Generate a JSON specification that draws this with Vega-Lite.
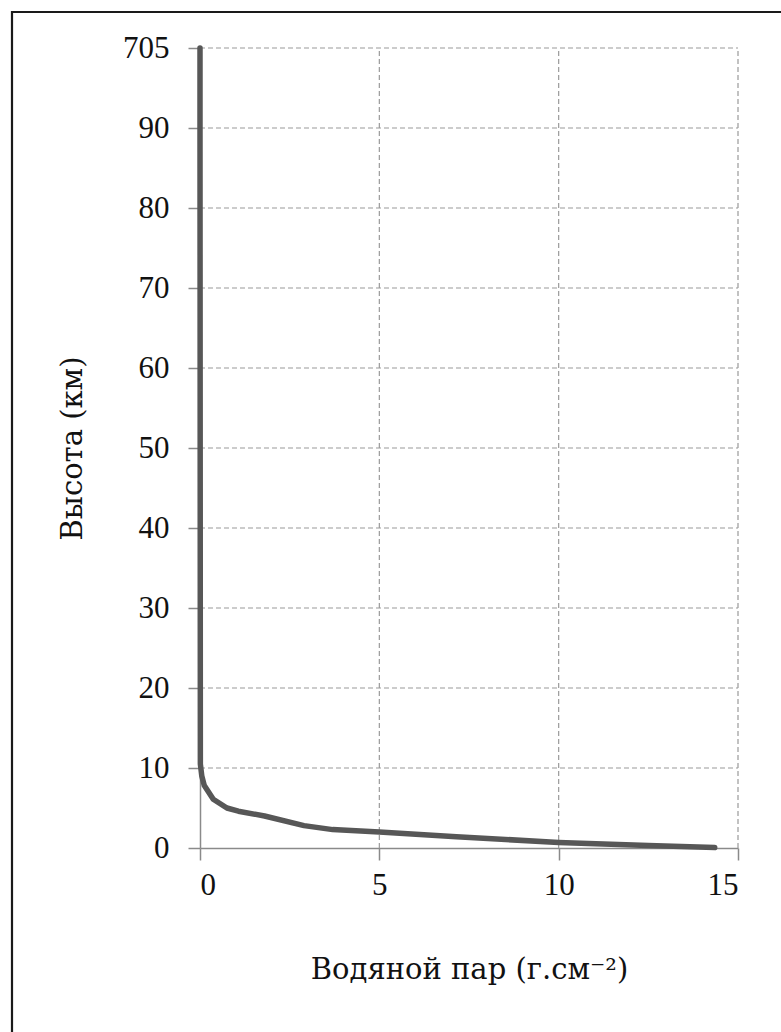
{
  "$schema": "https://vega.github.io/schema/vega-lite/v6.json",
  "autosize": {"type": "none"},
  "padding": {"left": 12, "top": 12, "right": 0, "bottom": 0},
  "width": 772,
  "height": 1023,
  "background": "white",
  "config": {
    "view": {"stroke": "#1a1a1a", "strokeWidth": 2.2, "fill": "white"},
    "font": "Liberation Serif",
    "axis": {
      "domainColor": "#8a8a8a",
      "domainWidth": 1.5,
      "tickColor": "#8a8a8a",
      "tickWidth": 1.5,
      "tickSize": 12,
      "grid": false,
      "labelFont": "Liberation Serif",
      "labelFontSize": 31,
      "labelColor": "#111111",
      "titleFont": "DejaVu Serif",
      "titleFontSize": 29,
      "titleFontWeight": "normal",
      "titleColor": "#111111"
    }
  },
  "datasets": {
    "profile": [
      {"water_vapour": 0.0, "altitude_km": 705},
      {"water_vapour": 0.0, "altitude_km": 90},
      {"water_vapour": 0.01, "altitude_km": 10.5},
      {"water_vapour": 0.05, "altitude_km": 9.0},
      {"water_vapour": 0.12, "altitude_km": 7.8},
      {"water_vapour": 0.37, "altitude_km": 6.1},
      {"water_vapour": 0.75, "altitude_km": 5.0},
      {"water_vapour": 1.07, "altitude_km": 4.6},
      {"water_vapour": 1.8, "altitude_km": 4.0},
      {"water_vapour": 2.9, "altitude_km": 2.8},
      {"water_vapour": 3.7, "altitude_km": 2.3},
      {"water_vapour": 5.0, "altitude_km": 2.0},
      {"water_vapour": 7.15, "altitude_km": 1.4},
      {"water_vapour": 10.0, "altitude_km": 0.7},
      {"water_vapour": 12.5, "altitude_km": 0.3},
      {"water_vapour": 14.35, "altitude_km": 0.05}
    ],
    "vapour_gridlines": [
      {"water_vapour": 5},
      {"water_vapour": 10},
      {"water_vapour": 15}
    ],
    "altitude_gridlines": [
      {"altitude_km": 10}, {"altitude_km": 20}, {"altitude_km": 30},
      {"altitude_km": 40}, {"altitude_km": 50}, {"altitude_km": 60},
      {"altitude_km": 70}, {"altitude_km": 80}, {"altitude_km": 90},
      {"altitude_km": 705}
    ]
  },
  "layer": [
    {
      "data": {"name": "vapour_gridlines"},
      "mark": {"type": "rule", "color": "#9a9a9a", "strokeWidth": 1.2, "strokeDash": [5, 3]},
      "encoding": {
        "x": {"field": "water_vapour", "type": "quantitative", "title": "Водяной пар (г.см⁻²)"},
        "y": {"datum": 0},
        "y2": {"datum": 705}
      }
    },
    {
      "data": {"name": "altitude_gridlines"},
      "mark": {"type": "rule", "color": "#9a9a9a", "strokeWidth": 1.2, "strokeDash": [5, 3]},
      "encoding": {
        "y": {"field": "altitude_km", "type": "quantitative", "title": "Высота (км)"},
        "x": {"datum": 0},
        "x2": {"datum": 15}
      }
    },
    {
      "data": {"name": "profile"},
      "mark": {
        "type": "line",
        "color": "#575757",
        "strokeWidth": 5.5,
        "strokeCap": "round",
        "strokeJoin": "round"
      },
      "encoding": {
        "order": {"field": "altitude_km", "type": "quantitative", "sort": "descending"},
        "x": {
          "field": "water_vapour",
          "type": "quantitative",
          "title": "Водяной пар (г.см⁻²)",
          "scale": {"domain": [0, 15], "range": [188, 726], "nice": false, "zero": false},
          "axis": {
            "values": [0, 5, 10, 15],
            "offset": -187,
            "labelPadding": 10,
            "titleX": 457,
            "titleY": 121,
            "titleBaseline": "middle",
            "titleAlign": "center"
          }
        },
        "y": {
          "field": "altitude_km",
          "type": "quantitative",
          "title": "Высота (км)",
          "scale": {"domain": [0, 90, 705], "range": [836, 116, 36], "nice": false, "zero": false},
          "axis": {
            "values": [0, 10, 20, 30, 40, 50, 60, 70, 80, 90, 705],
            "offset": -188,
            "labelPadding": 19,
            "titleX": -128,
            "titleY": 436,
            "titleAngle": -90,
            "titleBaseline": "middle",
            "titleAlign": "center"
          }
        }
      }
    }
  ]
}
